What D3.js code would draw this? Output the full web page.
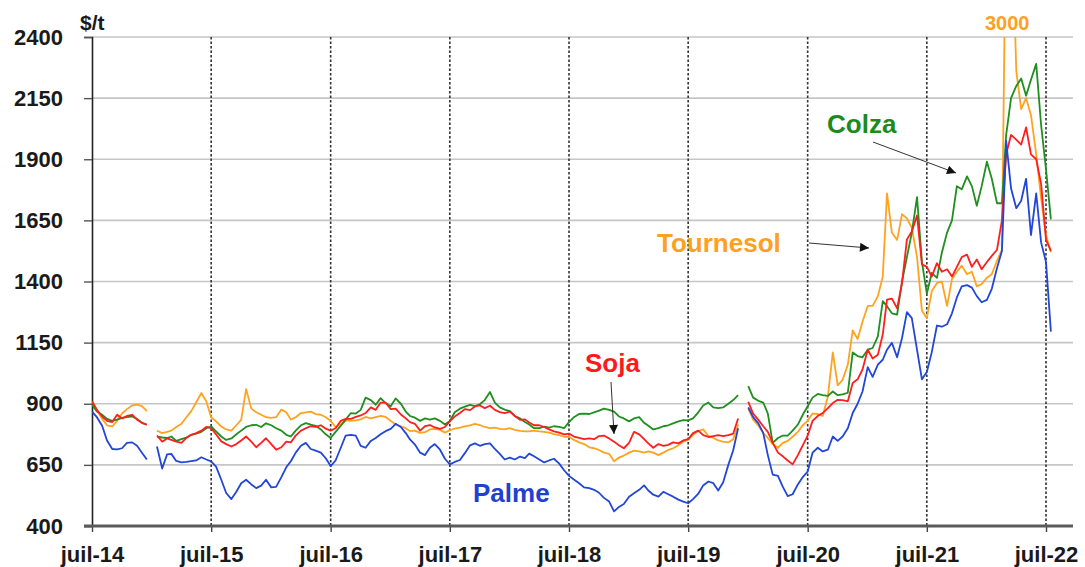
<!DOCTYPE html>
<html>
<head>
<meta charset="utf-8">
<script src="https://d3js.org/d3.v7.min.js"></script>
<style>
  body { margin: 0; background: #fff; }
  svg text { font-family: "Liberation Sans", Arial, sans-serif; font-weight: bold; }
</style>
</head>
<body>
<div id="my_dataviz"></div>
<script>
// prix des huiles végétales, $/t, un point tous les 1er et 16 du mois depuis juil-14
// null = trou dans la série
var palme = [
  868, 845, 810, 750, 715, 713, 718, 740, 742, 728, 700, 672,
  null, 725, 635, 693, 695, 666, 660, 662, 665, 668, 681, 672,
  664, 643, 589, 535, 510, 540, 575, 589, 570, 555, 565, 589,
  558, 560, 600, 640, 665, 700, 728, 740, 715, 708, 700, 677,
  645, 668, 720, 770, 773, 770, 728, 720, 748, 760, 775, 788,
  797, 818, 805, 780, 754, 733, 700, 690, 720, 735, 712, 675,
  652, 662, 670, 698, 730, 738, 728, 735, 738, 715, 695, 672,
  680, 672, 684, 678, 696, 685, 672, 660, 668, 675, 655, 628,
  605, 590, 575, 558, 555, 548, 536, 515, 500, 460, 478, 490,
  520, 534, 548, 566, 545, 528, 520, 540, 530, 520, 508, 500,
  493, 510, 532, 566, 582, 575, 545, 578, 650, 710, 800, null,
  885, 845, 820, 780, 690, 610, 605, 560, 522, 530, 570, 600,
  623, 700, 720, 705, 712, 766, 748, 766, 800, 862, 900, 950,
  1050, 1010, 1060, 1080, 1121, 1149, 1090, 1169, 1275, 1250, 1120, 1000,
  1030, 1110, 1220, 1215, 1225, 1270, 1335, 1380, 1385, 1375, 1340, 1315,
  1325, 1370, 1455, 1525, 1975, 1780, 1700, 1730, 1820, 1590, 1760, 1560,
  1480, 1195
];
var soja = [
  910, 875, 848, 830, 825, 855, 840, 850, 855, 835, 822, 814,
  null, 770, 745, 758, 752, 745, 740, 760, 773, 780, 790, 805,
  800, 775, 746, 735, 725, 735, 750, 766, 745, 722, 740, 759,
  735, 712, 722, 745, 742, 770, 790, 800, 808, 805, 812, 798,
  790, 800, 830, 838, 838, 846, 852, 862, 885, 875, 905, 905,
  878, 880, 856, 840, 825, 818, 790, 808, 813, 803, 797, 805,
  828, 848, 862, 878, 874, 889, 893, 882, 892, 875, 866, 862,
  868, 850, 834, 836, 823, 812, 812, 805, 795, 787, 782, 775,
  778, 766, 760, 755, 758, 755, 768, 770, 758, 745, 730, 718,
  740, 785, 775, 755, 738, 720, 735, 728, 732, 742, 738, 750,
  755, 780, 790, 772, 764, 768, 772, 768, 772, 778, 840, null,
  908, 860, 834, 808, 785, 740, 700, 685, 668, 652, 690, 730,
  770, 830, 850, 862, 882, 903, 916, 915, 910, 985, 1000, 1040,
  1121, 1085, 1100, 1183, 1326, 1330, 1290, 1394, 1572, 1605, 1670, 1470,
  1460, 1420, 1475, 1440, 1450, 1420, 1460, 1500, 1510, 1460, 1490, 1450,
  1480, 1505, 1530, 1650, 1920, 2000, 1980, 1960, 2030, 1920, 1900, 1800,
  1570, 1525
];
var tournesol = [
  910, 875, 838, 812, 807, 830, 860, 878, 893, 896, 890, 870,
  null, 790, 780, 785, 790, 805, 818, 845, 870, 905, 944, 910,
  845, 828, 807, 795, 790, 812, 834, 960, 880, 865, 855, 845,
  842, 845, 876, 865, 835, 845, 862, 865, 868, 858, 855, 845,
  830, 805, 815, 832, 830, 832, 836, 846, 840, 845, 850, 846,
  830, 815, 808, 800, 788, 790, 781, 784, 795, 797, 793, 782,
  792, 798, 802, 807, 812, 818, 813, 805, 800, 802, 797, 795,
  800, 793, 789, 787, 787, 790, 787, 785, 782, 776, 772, 765,
  765, 752, 742, 735, 722, 718, 711, 700, 695, 665, 680, 688,
  700, 708, 705, 700, 705, 700, 690, 700, 711, 718, 730, 745,
  752, 773, 788, 795, 768, 760, 750, 745, 742, 755, 815, null,
  880, 835, 810, 780, 760, 735, 720, 740, 748, 765, 785, 812,
  830, 860, 858, 850, 930, 1110, 975, 998, 1060, 1200, 1165, 1235,
  1300, 1300, 1340, 1420, 1760, 1600, 1570, 1675, 1658, 1620, 1500, 1280,
  1250, 1360, 1394, 1400, 1300, 1410, 1440, 1465, 1430, 1440, 1380, 1390,
  1415, 1430, 1485, 1530, 3000, 3000, 2260, 2105, 2150, 2080, 1920, 1740,
  1590, 1520
];
var colza = [
  896, 868, 855, 838, 830, 835, 842, 845, 848, 838, 822, 815,
  null, 766, 762, 760, 766, 748, 755, 762, 773, 778, 785, 800,
  807, 787, 766, 752, 758, 775, 790, 805, 812, 814, 805, 820,
  812, 800, 790, 773, 766, 790, 812, 821, 815, 810, 795, 775,
  760, 785, 810, 835, 862, 860, 875, 925, 915, 896, 923, 903,
  890, 922, 900, 868, 850, 843, 830, 840, 835, 840, 830, 815,
  830, 865, 880, 888, 895, 890, 898, 915, 948, 905, 885, 876,
  870, 850, 840, 825, 815, 800, 800, 806, 802, 808, 805, 800,
  825, 845, 858, 860, 858, 865, 872, 880, 875, 868, 848, 840,
  828, 840, 845, 822, 810, 795, 800, 808, 812, 820, 828, 833,
  832, 840, 865, 893, 905, 885, 882, 885, 900, 915, 935, null,
  972, 925, 912, 905, 860, 740, 760, 770, 770, 790, 815, 855,
  890, 925, 940, 935, 932, 950, 935, 938, 945, 1110, 1095, 1090,
  1121, 1128, 1176, 1320, 1299, 1270, 1265, 1400, 1500, 1600, 1745, 1480,
  1350, 1435, 1415, 1518, 1600, 1650, 1790, 1777, 1830, 1790, 1710, 1790,
  1890, 1820, 1720, 1720, 2000, 2150, 2200, 2230, 2160, 2225, 2290, 2040,
  1860, 1654
];

var yTicks = [400, 650, 900, 1150, 1400, 1650, 1900, 2150, 2400];
var xTickLabels = ["juil-14", "juil-15", "juil-16", "juil-17", "juil-18", "juil-19", "juil-20", "juil-21", "juil-22"];

// dates des points : 1er et 16 de chaque mois
var dates = palme.map(function (d, i) {
  return new Date(2014, 6 + Math.floor(i / 2), i % 2 ? 16 : 1);
});
var yearTicks = xTickLabels.map(function (d, i) { return new Date(2014 + i, 6, 1); });

var series = [
  {name: "Tournesol", values: tournesol, color: "#ffa31f"},
  {name: "Colza", values: colza, color: "#1f8f1f"},
  {name: "Soja", values: soja, color: "#ff1e1e"},
  {name: "Palme", values: palme, color: "#2146d8"}
];

// set the dimensions and margins of the graph
var margin = {top: 37, right: 12, bottom: 41, left: 92},
    width = 1085 - margin.left - margin.right,
    height = 567 - margin.top - margin.bottom;

var root = d3.select("#my_dataviz")
  .append("svg")
    .attr("width", 1085)
    .attr("height", 567);

var svg = root.append("g")
    .attr("transform", "translate(" + margin.left + "," + margin.top + ")");

var x = d3.scaleTime()
  .domain([yearTicks[0], yearTicks[yearTicks.length - 1]])
  .range([0, 954]);
var y = d3.scaleLinear().domain([400, 2400]).range([height, 0]);

// horizontal grid
svg.append("g")
  .selectAll("line")
  .data(yTicks.slice(1))
  .enter()
  .append("line")
    .attr("x1", 0)
    .attr("x2", width)
    .attr("y1", function (d) { return y(d); })
    .attr("y2", function (d) { return y(d); })
    .attr("stroke", "#c6c6c6")
    .attr("stroke-width", 1.6);

// dashed year lines
svg.append("g")
  .selectAll("line")
  .data(yearTicks.slice(1))
  .enter()
  .append("line")
    .attr("x1", function (d) { return x(d); })
    .attr("x2", function (d) { return x(d); })
    .attr("y1", 0)
    .attr("y2", height)
    .attr("stroke", "#333")
    .attr("stroke-width", 1.6)
    .attr("stroke-dasharray", "2.5,2");

// Y axis
var yAxis = svg.append("g")
  .call(d3.axisLeft(y).tickValues(yTicks).tickSize(8).tickPadding(21).tickFormat(d3.format("d")));
yAxis.select(".domain").attr("stroke", "#222").attr("stroke-width", 1.6);
yAxis.selectAll(".tick line").attr("stroke", "#555").attr("stroke-width", 1.4);
yAxis.selectAll("text").style("font-size", "22px").attr("fill", "#1a1a1a");

// X axis
var xAxis = svg.append("g")
  .attr("transform", "translate(0," + height + ")")
  .call(d3.axisBottom(x).tickValues(yearTicks).tickSize(6).tickPadding(14)
    .tickFormat(function (d, i) { return xTickLabels[i]; }));
xAxis.select(".domain").remove();
xAxis.append("line")
  .attr("x1", -8).attr("x2", width)
  .attr("stroke", "#5a5a5a").attr("stroke-width", 3);
xAxis.selectAll(".tick line").attr("stroke", "#444").attr("stroke-width", 1.4);
xAxis.selectAll("text").style("font-size", "22px").attr("fill", "#1a1a1a");

// lines
svg.append("clipPath").attr("id", "plot-clip")
  .append("rect").attr("width", width).attr("height", height);

var line = d3.line()
  .defined(function (d) { return d[1] != null; })
  .x(function (d) { return x(d[0]); })
  .y(function (d) { return y(d[1]); });

svg.append("g")
  .attr("clip-path", "url(#plot-clip)")
  .selectAll("path")
  .data(series)
  .enter()
  .append("path")
    .attr("fill", "none")
    .attr("stroke", function (d) { return d.color; })
    .attr("stroke-width", 1.8)
    .attr("stroke-linejoin", "round")
    .attr("d", function (d) {
      return line(d.values.map(function (v, i) { return [dates[i], v]; }));
    });

// labels and arrows
root.append("defs").append("marker")
  .attr("id", "head")
  .attr("viewBox", "0 0 10 10")
  .attr("refX", 10).attr("refY", 5)
  .attr("markerWidth", 11).attr("markerHeight", 9)
  .attr("markerUnits", "userSpaceOnUse")
  .attr("orient", "auto")
  .append("path").attr("d", "M0,0L10,5L0,10z").attr("fill", "#111");

var arrows = [[873, 142, 956, 173], [809, 243, 869, 248], [611, 382, 614, 434]];
root.append("g")
  .selectAll("line")
  .data(arrows)
  .enter()
  .append("line")
    .attr("x1", function (d) { return d[0]; })
    .attr("y1", function (d) { return d[1]; })
    .attr("x2", function (d) { return d[2]; })
    .attr("y2", function (d) { return d[3]; })
    .attr("stroke", "#333")
    .attr("stroke-width", 1)
    .attr("marker-end", "url(#head)");

var labels = [
  {text: "Colza", x: 827, y: 133, color: "#1c8a1c", size: 26},
  {text: "Tournesol", x: 657, y: 252, color: "#ffa01e", size: 26},
  {text: "Soja", x: 585, y: 372, color: "#ff1a1a", size: 26},
  {text: "Palme", x: 473, y: 502, color: "#1f40d0", size: 26},
  {text: "3000", x: 985, y: 30, color: "#ffa01e", size: 20},
  {text: "$/t", x: 80, y: 30, color: "#1a1a1a", size: 21}
];
root.append("g")
  .selectAll("text")
  .data(labels)
  .enter()
  .append("text")
    .attr("x", function (d) { return d.x; })
    .attr("y", function (d) { return d.y; })
    .attr("fill", function (d) { return d.color; })
    .style("font-size", function (d) { return d.size + "px"; })
    .text(function (d) { return d.text; });
</script>
</body>
</html>
